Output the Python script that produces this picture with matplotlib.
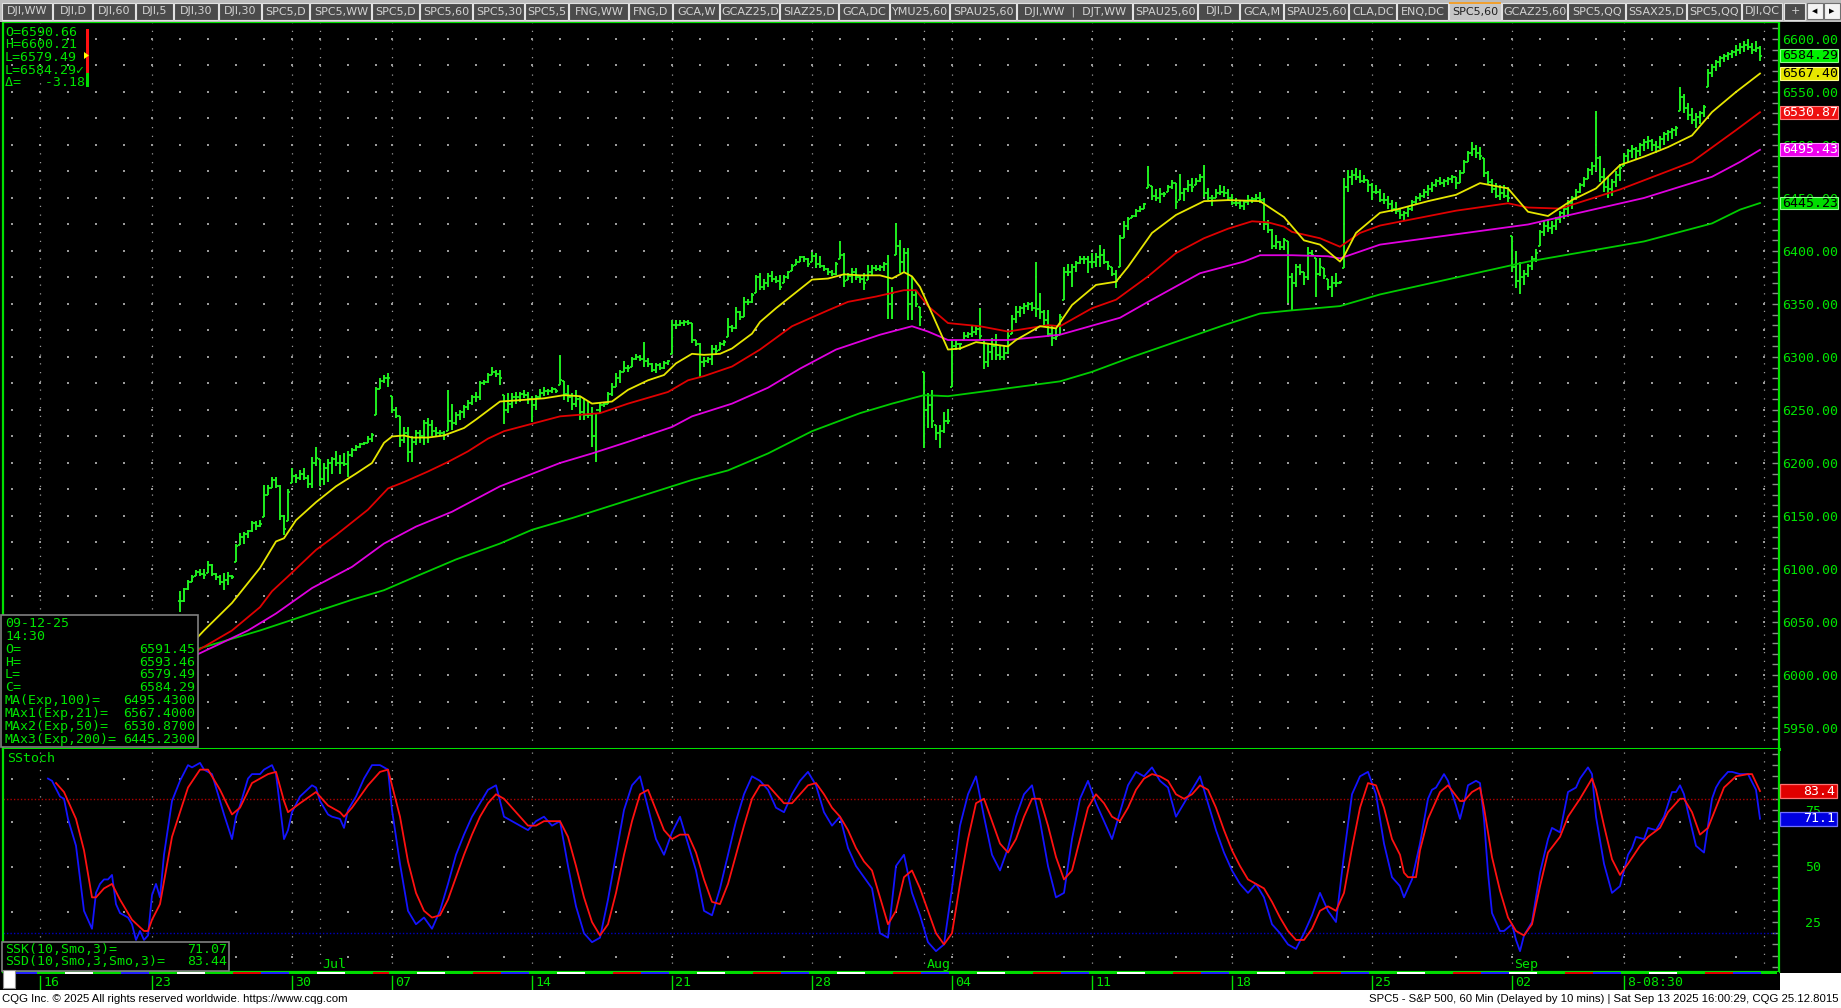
import matplotlib
matplotlib.use("Agg")
import matplotlib.pyplot as plt
import matplotlib.transforms as mtransforms
from matplotlib.patches import Rectangle, Polygon
import numpy as np
import pandas as pd

plt.rcParams["font.family"] = ["DejaVu Sans Mono", "DejaVu Sans"]

W, H = 1841, 1008
DPI = 100

# =============================================================================
# Data: SPC5 60-min bars, Jun 24 .. Sep 12 2025 (one line per session)
# =============================================================================
FIRST_DAY = "2025-06-13"
LAST_DAY = "2025-09-12"
HOLIDAYS = ["2025-06-19", "2025-07-04", "2025-09-01"]
HALF_DAYS = {"2025-07-03": 4}
BARS_PER_DAY = 7
FIRST_BAR_DAY = "2025-06-24"

HIGHS = [
    6079, 6082, 6090, 6094, 6099, 6100, 6100,   # Jun 24
    6108, 6105, 6096, 6094, 6096, 6097, 6094,   # Jun 25
    6124, 6134, 6135, 6137, 6145, 6145, 6146,   # Jun 26
    6179, 6179, 6187, 6187, 6179, 6151, 6175,   # Jun 27
    6195, 6190, 6193, 6195, 6189, 6206, 6215,   # Jun 30
    6204, 6200, 6204, 6206, 6211, 6208, 6209,   # Jul 01
    6211, 6214, 6217, 6219, 6220, 6225, 6228,   # Jul 02
    6272, 6280, 6283, 6285,                     # Jul 03
    6263, 6253, 6244, 6234, 6234, 6225, 6231,   # Jul 07
    6231, 6241, 6242, 6241, 6234, 6231, 6230,   # Jul 08
    6269, 6256, 6248, 6250, 6255, 6259, 6264,   # Jul 09
    6267, 6277, 6278, 6285, 6291, 6288, 6288,   # Jul 10
    6264, 6266, 6266, 6267, 6267, 6269, 6267,   # Jul 11
    6263, 6264, 6270, 6272, 6270, 6272, 6270,   # Jul 14
    6302, 6277, 6274, 6266, 6269, 6263, 6261,   # Jul 15
    6258, 6253, 6247, 6258, 6258, 6267, 6275,   # Jul 16
    6285, 6288, 6296, 6292, 6300, 6303, 6302,   # Jul 17
    6314, 6299, 6294, 6294, 6294, 6296, 6297,   # Jul 18
    6335, 6335, 6335, 6335, 6335, 6332, 6316,   # Jul 21
    6313, 6300, 6300, 6311, 6311, 6314, 6316,   # Jul 22
    6337, 6330, 6347, 6343, 6357, 6355, 6360,   # Jul 23
    6377, 6379, 6374, 6379, 6381, 6376, 6377,   # Jul 24
    6377, 6381, 6388, 6392, 6395, 6395, 6393,   # Jul 25
    6399, 6398, 6395, 6387, 6384, 6382, 6390,   # Jul 28
    6409, 6398, 6379, 6384, 6384, 6377, 6379,   # Jul 29
    6387, 6387, 6387, 6387, 6390, 6396, 6366,   # Jul 30
    6426, 6410, 6403, 6403, 6376, 6363, 6347,   # Jul 31
    6286, 6266, 6269, 6236, 6236, 6248, 6251,   # Aug 01
    6316, 6316, 6313, 6324, 6324, 6329, 6330,   # Aug 04
    6346, 6316, 6313, 6318, 6322, 6310, 6310,   # Aug 05
    6324, 6340, 6348, 6348, 6351, 6352, 6352,   # Aug 06
    6390, 6360, 6344, 6344, 6329, 6327, 6341,   # Aug 07
    6385, 6388, 6388, 6391, 6395, 6395, 6395,   # Aug 08
    6398, 6398, 6406, 6402, 6391, 6385, 6382,   # Aug 11
    6415, 6428, 6432, 6434, 6440, 6442, 6445,   # Aug 12
    6480, 6461, 6458, 6459, 6456, 6462, 6467,   # Aug 13
    6464, 6473, 6459, 6467, 6469, 6469, 6473,   # Aug 14
    6481, 6459, 6453, 6458, 6462, 6461, 6458,   # Aug 15
    6454, 6450, 6448, 6448, 6453, 6451, 6454,   # Aug 18
    6456, 6450, 6429, 6421, 6415, 6409, 6412,   # Aug 19
    6409, 6379, 6388, 6388, 6380, 6404, 6401,   # Aug 20
    6393, 6393, 6384, 6374, 6376, 6379, 6372,   # Aug 21
    6469, 6476, 6476, 6478, 6476, 6472, 6467,   # Aug 22
    6464, 6462, 6458, 6455, 6452, 6448, 6446,   # Aug 25
    6440, 6438, 6442, 6448, 6452, 6455, 6458,   # Aug 26
    6462, 6465, 6468, 6470, 6468, 6470, 6472,   # Aug 27
    6470, 6476, 6486, 6494, 6503, 6500, 6498,   # Aug 28
    6488, 6475, 6468, 6464, 6462, 6462, 6460,   # Aug 29
    6414, 6400, 6390, 6382, 6388, 6395, 6402,   # Sep 02
    6420, 6428, 6430, 6428, 6432, 6438, 6442,   # Sep 03
    6448, 6452, 6458, 6464, 6470, 6478, 6484,   # Sep 04
    6532, 6490, 6478, 6470, 6468, 6475, 6482,   # Sep 05
    6492, 6496, 6500, 6498, 6502, 6506, 6508,   # Sep 08
    6506, 6504, 6508, 6512, 6514, 6516, 6518,   # Sep 09
    6555, 6548, 6540, 6535, 6530, 6532, 6538,   # Sep 10
    6572, 6576, 6580, 6584, 6586, 6588, 6590,   # Sep 11
    6594, 6596, 6598, 6600.21, 6596, 6598, 6593.46,   # Sep 12
]

LOWS = [
    6059, 6069, 6080, 6088, 6093, 6093, 6091,
    6096, 6093, 6090, 6085, 6080, 6085, 6091,
    6107, 6123, 6124, 6129, 6135, 6137, 6140,
    6149, 6170, 6176, 6176, 6146, 6132, 6145,
    6181, 6181, 6184, 6184, 6176, 6176, 6197,
    6178, 6179, 6182, 6190, 6197, 6190, 6197,
    6187, 6206, 6211, 6214, 6217, 6219, 6220,
    6245, 6270, 6275, 6272,
    6247, 6242, 6215, 6219, 6201, 6201, 6217,
    6219, 6217, 6219, 6225, 6225, 6225, 6222,
    6230, 6231, 6236, 6241, 6242, 6250, 6255,
    6258, 6259, 6274, 6275, 6283, 6281, 6274,
    6237, 6247, 6252, 6256, 6258, 6261, 6256,
    6239, 6250, 6261, 6263, 6264, 6266, 6266,
    6274, 6259, 6258, 6250, 6253, 6241, 6241,
    6242, 6215, 6201, 6247, 6253, 6256, 6263,
    6272, 6275, 6286, 6286, 6291, 6297, 6296,
    6291, 6291, 6286, 6285, 6288, 6289, 6292,
    6303, 6326, 6329, 6329, 6330, 6313, 6310,
    6281, 6291, 6294, 6292, 6302, 6307, 6310,
    6319, 6324, 6326, 6335, 6338, 6349, 6351,
    6360, 6363, 6363, 6366, 6371, 6370, 6363,
    6370, 6374, 6381, 6387, 6390, 6390, 6385,
    6390, 6384, 6384, 6381, 6377, 6376, 6377,
    6392, 6366, 6373, 6370, 6373, 6370, 6363,
    6373, 6376, 6381, 6381, 6381, 6336, 6336,
    6396, 6379, 6379, 6335, 6335, 6347, 6329,
    6214, 6233, 6233, 6222, 6214, 6228, 6237,
    6272, 6307, 6307, 6316, 6318, 6319, 6321,
    6316, 6289, 6291, 6297, 6297, 6297, 6297,
    6303, 6322, 6332, 6338, 6341, 6344, 6343,
    6338, 6336, 6329, 6319, 6310, 6316, 6321,
    6354, 6376, 6366, 6380, 6388, 6388, 6379,
    6384, 6385, 6385, 6388, 6382, 6376, 6365,
    6385, 6412, 6420, 6431, 6432, 6437, 6440,
    6459, 6448, 6447, 6445, 6451, 6456, 6458,
    6440, 6448, 6447, 6456, 6456, 6462, 6465,
    6451, 6448, 6442, 6450, 6453, 6451, 6447,
    6443, 6442, 6440, 6439, 6443, 6445, 6447,
    6445, 6420, 6417, 6402, 6402, 6401, 6401,
    6351, 6343, 6366, 6377, 6368, 6373, 6395,
    6357, 6376, 6374, 6363, 6357, 6366, 6369,
    6384, 6456, 6462, 6467, 6464, 6464, 6456,
    6448, 6454, 6446, 6444, 6440, 6437, 6435,
    6430, 6428, 6432, 6438, 6444, 6447, 6450,
    6452, 6456, 6460, 6462, 6460, 6462, 6464,
    6458, 6464, 6474, 6484, 6490, 6488, 6486,
    6470, 6462, 6455, 6450, 6448, 6450, 6446,
    6380, 6365, 6359, 6368, 6375, 6382, 6390,
    6405, 6414, 6418, 6416, 6420, 6426, 6430,
    6432, 6440, 6448, 6455, 6460, 6468, 6472,
    6475, 6465, 6456, 6450, 6452, 6460, 6466,
    6480, 6484, 6488, 6486, 6490, 6494, 6496,
    6494, 6492, 6496, 6500, 6504, 6506, 6508,
    6532, 6530, 6524, 6520, 6516, 6520, 6526,
    6555, 6564, 6570, 6574, 6578, 6580, 6582,
    6584, 6586, 6588, 6590, 6586, 6588, 6579.49,
]

CLOSES = [
    6070, 6081, 6088, 6092, 6097, 6095, 6094,
    6104, 6095, 6092, 6088, 6090, 6093, 6092,
    6122, 6130, 6133, 6136, 6143, 6141, 6142,
    6170, 6176, 6184, 6178, 6150, 6138, 6173,
    6188, 6186, 6190, 6186, 6180, 6200, 6205,
    6185, 6195, 6200, 6204, 6200, 6200, 6199,
    6208, 6212, 6215, 6218, 6219, 6223, 6226,
    6270, 6277, 6280, 6280,
    6250, 6244, 6222, 6228, 6210, 6220, 6228,
    6225, 6238, 6236, 6230, 6228, 6228, 6226,
    6240, 6238, 6245, 6248, 6253, 6257, 6262,
    6262, 6275, 6276, 6283, 6286, 6284, 6280,
    6250, 6256, 6262, 6262, 6265, 6264, 6260,
    6255, 6262, 6266, 6268, 6268, 6270, 6268,
    6278, 6265, 6262, 6256, 6260, 6248, 6245,
    6245, 6225, 6250, 6255, 6256, 6265, 6272,
    6280, 6286, 6290, 6290, 6298, 6300, 6298,
    6296, 6293, 6288, 6292, 6290, 6294, 6296,
    6330, 6330, 6332, 6333, 6332, 6316, 6312,
    6295, 6296, 6298, 6308, 6306, 6312, 6314,
    6328, 6327, 6342, 6338, 6352, 6352, 6358,
    6375, 6366, 6370, 6376, 6374, 6372, 6366,
    6375, 6380, 6386, 6390, 6394, 6392, 6388,
    6395, 6388, 6386, 6383, 6380, 6378, 6388,
    6396, 6372, 6376, 6380, 6375, 6374, 6370,
    6380, 6384, 6383, 6385, 6388, 6350, 6360,
    6405, 6390, 6398, 6350, 6358, 6350, 6338,
    6250, 6255, 6240, 6228, 6230, 6240, 6240,
    6310, 6312, 6312, 6320, 6322, 6324, 6326,
    6320, 6295, 6305, 6310, 6302, 6300, 6304,
    6320, 6336, 6342, 6346, 6348, 6350, 6346,
    6345, 6342, 6335, 6322, 6318, 6320, 6338,
    6380, 6380, 6385, 6389, 6392, 6392, 6390,
    6390, 6394, 6396, 6390, 6386, 6378, 6372,
    6412, 6424, 6430, 6433, 6438, 6440, 6444,
    6462, 6452, 6450, 6454, 6454, 6460, 6464,
    6446, 6455, 6458, 6462, 6460, 6466, 6470,
    6455, 6450, 6450, 6455, 6456, 6455, 6450,
    6445, 6445, 6442, 6446, 6448, 6449, 6450,
    6448, 6425, 6420, 6405, 6408, 6404, 6410,
    6375, 6370, 6385, 6380, 6375, 6398, 6396,
    6378, 6385, 6376, 6366, 6370, 6370, 6371,
    6460, 6470, 6472, 6470, 6466, 6467, 6462,
    6456, 6456, 6448, 6448, 6444, 6440, 6438,
    6434, 6436, 6440, 6446, 6450, 6452, 6456,
    6458, 6462, 6466, 6464, 6466, 6468, 6470,
    6464, 6474, 6484, 6492, 6496, 6492, 6490,
    6474, 6465, 6458, 6452, 6455, 6452, 6450,
    6385, 6372, 6375, 6378, 6386, 6392, 6398,
    6418, 6424, 6422, 6424, 6430, 6436, 6440,
    6445, 6450, 6456, 6462, 6468, 6476, 6480,
    6488, 6470, 6460, 6458, 6465, 6472, 6478,
    6490, 6494, 6496, 6494, 6500, 6503, 6504,
    6500, 6498, 6506, 6510, 6512, 6514, 6516,
    6545, 6535, 6528, 6524, 6526, 6530, 6536,
    6568, 6574, 6578, 6582, 6584, 6586, 6588,
    6590, 6592, 6594, 6592, 6590, 6591.45, 6584.29,
]

# Moving averages, read at bar indices (bar 0 = first bar of Jun 16)
EMA21_AT = [38, 41, 48, 55, 59, 61, 64, 69, 74, 79, 83, 86, 88, 91, 93, 97, 101, 106, 109,
            115, 119, 126, 131, 135, 138, 143, 147, 152, 156, 159, 163, 166, 170, 173, 178,
            180, 184, 188, 193, 197, 201, 205, 210, 213, 216, 218, 220, 223, 227, 230, 234,
            242, 244, 250, 254, 258, 264, 269, 272, 278, 284, 291, 297, 305, 311, 316, 320,
            325, 326, 329, 335, 339, 347, 354, 360, 367, 372, 377, 383, 389, 395, 401, 407,
            413, 418, 424, 430]
EMA21 = [6030, 6042, 6068, 6101, 6126, 6129, 6146, 6163, 6178, 6190, 6200, 6219, 6225, 6226,
         6224, 6224, 6226, 6233, 6241, 6258, 6259, 6261, 6264, 6263, 6256, 6258, 6269, 6278,
         6283, 6294, 6303, 6302, 6303, 6308, 6322, 6333, 6346, 6358, 6373, 6374, 6378, 6377,
         6377, 6374, 6380, 6376, 6366, 6341, 6307, 6308, 6314, 6310, 6316, 6329, 6327, 6349,
         6368, 6371, 6385, 6417, 6434, 6447, 6448, 6447, 6432, 6410, 6406, 6390, 6395, 6417,
         6436, 6439, 6447, 6453, 6464, 6459, 6437, 6433, 6448, 6459, 6481, 6489, 6498, 6509,
         6531, 6550, 6567.40]

EMA50_AT = [38, 48, 55, 58, 62, 69, 74, 82, 87, 91, 97, 102, 107, 112, 116, 122, 130, 140,
            147, 157, 162, 166, 173, 180, 188, 197, 202, 209, 216, 219, 222, 227, 235, 242,
            252, 255, 263, 269, 277, 284, 291, 297, 303, 307, 311, 313, 320, 325, 330, 335,
            354, 367, 372, 380, 395, 413, 424, 430]
EMA50 = [6020, 6042, 6064, 6079, 6093, 6118, 6132, 6156, 6176, 6182, 6192, 6201, 6211, 6223,
         6230, 6236, 6244, 6247, 6256, 6267, 6278, 6282, 6291, 6307, 6329, 6344, 6352, 6357,
         6363, 6363, 6348, 6332, 6329, 6324, 6330, 6329, 6346, 6354, 6376, 6398, 6412, 6421,
         6428, 6427, 6423, 6418, 6412, 6404, 6417, 6424, 6438, 6445, 6441, 6440, 6458, 6484,
         6514, 6530.87]

EMA100_AT = [38, 52, 59, 68, 78, 86, 94, 103, 115, 130, 138, 147, 158, 163, 173, 182, 190,
             199, 210, 218, 222, 227, 235, 242, 255, 270, 277, 290, 301, 305, 313, 322, 325,
             335, 372, 401, 418, 425, 430]
EMA100 = [6017, 6042, 6058, 6082, 6102, 6124, 6140, 6154, 6178, 6200, 6209, 6220, 6234, 6244,
          6256, 6271, 6289, 6307, 6321, 6329, 6324, 6316, 6316, 6316, 6321, 6337, 6352, 6379,
          6390, 6396, 6396, 6395, 6393, 6406, 6425, 6450, 6470, 6484, 6495.43]

EMA200_AT = [38, 55, 63, 70, 78, 86, 94, 104, 115, 123, 133, 163, 172, 182, 193, 205, 213,
             221, 227, 235, 243, 255, 263, 273, 283, 296, 305, 313, 325, 335, 372, 401, 418,
             425, 430]
EMA200 = [6023, 6042, 6052, 6061, 6071, 6080, 6093, 6109, 6124, 6137, 6148, 6184, 6193, 6209,
          6230, 6247, 6256, 6264, 6263, 6267, 6271, 6277, 6286, 6300, 6313, 6330, 6341, 6344,
          6348, 6359, 6390, 6409, 6426, 6439, 6445.23]

# Slow stochastic SSK (blue) and SSD (red)
SSK_AT = [2, 3, 5, 6, 7, 9, 11, 13, 14, 15, 16, 17, 18, 19, 20, 22, 23, 24, 25, 26, 27, 28,
          29, 30, 31, 33, 35, 37, 38, 40, 41, 43, 44, 46, 48, 49, 50, 52, 53, 55, 56, 58, 59,
          61, 62, 63, 65, 68, 69, 70, 72, 73, 75, 76, 77, 79, 81, 83, 85, 87, 88, 90,
          92, 94, 96, 98, 100, 102, 104, 106, 108, 110, 112, 114, 116, 118, 120, 122, 124,
          126, 128, 130, 132, 134, 136, 138, 140, 142, 144, 146, 148, 150, 152, 154, 156,
          158, 160, 162, 164, 166, 168, 170, 172, 174, 176, 178, 180, 182, 184, 186, 188,
          190, 192, 194, 196, 198, 200, 202, 204, 206, 208, 210, 212, 214, 216, 218, 220,
          222, 224, 226, 228, 230, 232, 234, 236, 238, 240, 242, 244, 246, 248, 250, 252,
          254, 256, 258, 260, 262, 264, 266, 268, 270, 272, 274, 276, 278, 280, 282, 284,
          286, 288, 290, 292, 294, 296, 298, 300, 302, 304, 306, 308, 310, 312, 314, 316,
          318, 320, 322, 324, 326, 328, 330, 332, 334, 336, 338, 340, 341, 343, 345, 347,
          348, 349, 351, 352, 354, 355, 356, 357, 359, 360, 361, 362, 363, 365, 366, 368,
          369, 370, 371, 373, 375, 377, 378, 380, 382, 384, 385, 387, 388, 389, 391, 393,
          395, 397, 398, 399, 401, 402, 404, 406, 408, 409, 410, 411, 412, 414, 416, 418,
          419, 420, 422, 423, 425, 427, 429, 430]
SSK = [89, 88, 81, 80, 71, 59, 30, 22, 38, 42, 44, 44, 46, 33, 29, 27, 24, 17, 21, 17, 19,
       37, 42, 36, 55, 79, 88, 95, 94, 96, 93, 91, 85, 73, 62, 72, 77, 89, 91, 91, 93, 95, 91,
       62, 66, 74, 81, 86, 85, 79, 73, 72, 71, 67, 75, 81, 89, 95, 95, 93, 75, 51,
       30, 24, 27, 22, 30, 42, 55, 64, 72, 78, 84, 86, 72, 70, 68, 66, 70,
       72, 68, 70, 50, 32, 20, 16, 18, 35, 55, 75, 86, 90, 76, 62, 55,
       65, 72, 60, 48, 30, 28, 40, 55, 70, 82, 90, 88, 84, 76, 74, 82,
       88, 92, 86, 74, 68, 72, 58, 50, 45, 40, 20, 18, 50, 55, 38, 28,
       16, 12, 15, 40, 68, 82, 90, 72, 55, 48, 58, 72, 82, 86, 70, 50,
       36, 38, 62, 80, 88, 78, 70, 62, 74, 86, 92, 90, 94, 88, 85, 72,
       78, 84, 90, 78, 66, 56, 48, 42, 38, 42, 36, 24, 20, 15, 13, 20,
       28, 38, 30, 25, 55, 82, 90, 92, 82, 60, 45, 41, 36, 44, 60, 80,
       84, 85, 91, 88, 77, 71, 78, 86, 88, 87, 71, 47, 29, 21, 21, 24,
       17, 12, 19, 25, 47, 62, 67, 65, 83, 85, 89, 94, 91, 72, 51, 38,
       41, 55, 58, 63, 62, 67, 66, 72, 83, 83, 86, 82, 74, 59, 56, 80,
       85, 88, 92, 92, 91, 91, 84, 71.07]

SSD_AT = [4, 6, 9, 11, 13, 14, 16, 18, 20, 23, 26, 27, 28, 30, 33, 37, 40, 42, 45, 48, 50,
          53, 57, 59, 61, 62, 65, 69, 72, 75, 76, 78, 82, 85, 87, 89, 90,
          92, 94, 96, 98, 100, 102, 104, 106, 108, 110, 112, 114, 116, 118, 120, 122, 124,
          126, 128, 130, 132, 134, 136, 138, 140, 142, 144, 146, 148, 150, 152, 154, 156,
          158, 160, 162, 164, 166, 168, 170, 172, 174, 176, 178, 180, 182, 184, 186, 188,
          190, 192, 194, 196, 198, 200, 202, 204, 206, 208, 210, 212, 214, 216, 218, 220,
          222, 224, 226, 228, 230, 232, 234, 236, 238, 240, 242, 244, 246, 248, 250, 252,
          254, 256, 258, 260, 262, 264, 266, 268, 270, 272, 274, 276, 278, 280, 282, 284,
          286, 288, 290, 292, 294, 296, 298, 300, 302, 304, 306, 308, 310, 312, 314, 316,
          318, 320, 322, 324, 326, 328, 330, 332, 334, 336, 338, 340, 341, 342, 344, 345,
          347, 350, 352, 355, 356, 358, 360, 361, 363, 365, 367, 369, 371, 373, 375, 377,
          380, 382, 385, 388, 389, 391, 393, 395, 397, 400, 402, 405, 407, 410, 411, 413,
          415, 417, 419, 421, 424, 427, 428, 430]
SSD = [87, 83, 71, 57, 36, 36, 40, 42, 35, 26, 21, 21, 26, 33, 63, 85, 93, 93, 84, 73, 76,
       87, 91, 92, 79, 74, 78, 83, 77, 74, 72, 76, 86, 92, 93, 79, 72,
       52, 38, 30, 27, 28, 35, 45, 55, 64, 72, 78, 82, 80, 76, 72, 68, 68,
       70, 70, 70, 63, 50, 36, 25, 19, 24, 38, 55, 70, 82, 84, 75, 66,
       62, 64, 64, 56, 44, 34, 33, 42, 55, 68, 80, 86, 86, 82, 78, 78,
       82, 86, 87, 82, 76, 72, 66, 58, 52, 48, 36, 24, 30, 45, 48, 40,
       30, 20, 15, 20, 42, 62, 78, 80, 70, 60, 56, 62, 72, 80, 80, 68,
       54, 44, 48, 62, 76, 82, 78, 72, 70, 76, 84, 89, 91, 90, 88, 82,
       80, 82, 86, 84, 76, 66, 57, 50, 44, 42, 40, 34, 27, 21, 17, 17,
       22, 30, 32, 30, 38, 58, 76, 87, 86, 76, 62, 55, 47, 45, 45, 57,
       71, 83, 86, 79, 79, 83, 85, 76, 54, 39, 27, 21, 19, 24, 41, 56,
       63, 72, 80, 89, 84, 68, 53, 46, 51, 59, 63, 67, 74, 80, 80, 74,
       64, 67, 76, 85, 90, 91, 91, 83.44]

INFO_TOP = ["O=6590.66", "H=6600.21", "L=6579.49", "L=6584.29\u2713", "\u0394=   -3.18"]
INFO_BAR_DATE = "09-12-25"
INFO_BAR_TIME = "14:30"
INFO_ROWS = [("O=", "6591.45"), ("H=", "6593.46"), ("L=", "6579.49"), ("C=", "6584.29"),
             ("MA(Exp,100)=", "6495.4300"), ("MAx1(Exp,21)=", "6567.4000"),
             ("MAx2(Exp,50)=", "6530.8700"), ("MAx3(Exp,200)=", "6445.2300")]
STOCH_ROWS = [("SSK(10,Smo,3)=", "71.07"), ("SSD(10,Smo,3,Smo,3)=", "83.44")]
WEEK_LABELS = ["16", "23", "30", "07", "14", "21", "28", "04", "11", "18", "25", "02", "8-08:30"]
MONTH_LABELS = ["Jul", "Aug", "Sep"]

TABS = [("DJI,WW", 2, 53), ("DJI,D", 53, 93), ("DJI,60", 93, 136), ("DJI,5", 136, 174),
        ("DJI,30", 174, 219), ("DJI,30", 219, 262), ("SPC5,D", 262, 310),
        ("SPC5,WW", 310, 372), ("SPC5,D", 372, 420), ("SPC5,60", 420, 473),
        ("SPC5,30", 473, 525), ("SPC5,5", 525, 569), ("FNG,WW", 569, 629),
        ("FNG,D", 629, 673), ("GCA,W", 673, 720), ("GCAZ25,D", 720, 780),
        ("SIAZ25,D", 780, 839), ("GCA,DC", 839, 890), ("YMU25,60", 890, 950),
        ("SPAU25,60", 950, 1017), ("DJI,WW  |  DJT,WW", 1017, 1133),
        ("SPAU25,60", 1133, 1198), ("DJI,D", 1198, 1240), ("GCA,M", 1240, 1284),
        ("SPAU25,60", 1284, 1349), ("CLA,DC", 1349, 1397), ("ENQ,DC", 1397, 1449),
        ("SPC5,60", 1449, 1502), ("GCAZ25,60", 1502, 1568), ("SPC5,QQ", 1568, 1626),
        ("SSAX25,D", 1626, 1687), ("SPC5,QQ", 1687, 1742), ("DJI,QC", 1742, 1783),
        ("+", 1784, 1806)]
ACTIVE_TAB = 27

FOOTER_LEFT = "CQG Inc. \u00a9 2025 All rights reserved worldwide. https://www.cqg.com"
FOOTER_RIGHT = ("SPC5 - S&P 500, 60 Min (Delayed by 10 mins) | "
                "Sat Sep 13 2025 16:00:29, CQG 25.12.8015")

# =============================================================================
# Style
# =============================================================================
TXT_GREEN = "#00e400"
BORDER_GREEN = "#00e000"
BAR_GREEN = "#1ff01f"
GRID_GRAY = "#9a9a9a"
C_EMA21, C_EMA50, C_EMA100, C_EMA200 = "#e6e600", "#e00000", "#e000e0", "#00cc00"
C_SSK, C_SSD = "#1414ff", "#ff1010"
MONO = ["DejaVu Sans Mono", "DejaVu Sans"]
FS = 9.5

# =============================================================================
# Calendar -> bar index
# =============================================================================
days = pd.bdate_range(FIRST_DAY, LAST_DAY)
days = days[~days.isin(pd.to_datetime(HOLIDAYS))]
counts = np.array([HALF_DAYS.get(d.strftime("%Y-%m-%d"), BARS_PER_DAY) for d in days])
starts = np.concatenate([[0], np.cumsum(counts)[:-1]])
starts = starts - starts[list(days).index(pd.Timestamp("2025-06-16"))]
day_end = starts[-1] + counts[-1]

first_bar = starts[list(days).index(pd.Timestamp(FIRST_BAR_DAY))]
idx = np.arange(first_bar, first_bar + len(HIGHS))
assert len(HIGHS) == len(LOWS) == len(CLOSES) == day_end - first_bar

weeks = days.isocalendar().week.values
week_starts = [starts[k] for k in range(1, len(days)) if weeks[k] != weeks[k - 1]]
month_starts = [starts[k] for k in range(1, len(days)) if days[k].month != days[k - 1].month]
vlines_at = sorted(set(week_starts + month_starts + [day_end]))

highs = np.array(HIGHS, float)
lows = np.array(LOWS, float)
closes = np.array(CLOSES, float)
opens = np.clip(np.concatenate([[closes[0]], closes[:-1]]), lows, highs)

# =============================================================================
# Figure
# =============================================================================
fig = plt.figure(figsize=(W / DPI, H / DPI), dpi=DPI, facecolor="black")


def px_axes(x0, y0, x1, y1):
    ax = fig.add_axes([x0 / W, 1 - y1 / H, (x1 - x0) / W, (y1 - y0) / H])
    ax.set_facecolor("black")
    return ax


X_LEFT, X_RIGHT = -9.25, 434.75
P_LO, P_HI = 5930.2, 6616.0
S_LO, S_HI = 2.7, 102.2

# ---- price panel -------------------------------------------------------------
ax_p = px_axes(3, 22, 1779, 749)
ax_p.set_xlim(X_LEFT, X_RIGHT)
ax_p.set_ylim(P_LO, P_HI)
for side in ("left", "top", "right"):
    ax_p.spines[side].set_color(BORDER_GREEN)
    ax_p.spines[side].set_linewidth(1.6)
ax_p.spines["bottom"].set_color(BORDER_GREEN)
ax_p.spines["bottom"].set_linewidth(2.2)
ax_p.tick_params(axis="x", bottom=False, labelbottom=False)
ax_p.yaxis.tick_right()
ax_p.set_yticks(np.arange(5950, 6601, 50))
ax_p.set_yticklabels([f"{v:.2f}" for v in np.arange(5950, 6601, 50)])
ax_p.set_yticks(np.arange(5940, 6611, 10), minor=True)
ax_p.tick_params(axis="y", which="both", direction="in", length=5, width=1,
                 color="#8a8a8a", labelcolor=TXT_GREEN, labelsize=FS, pad=2.2)

grid_levels = np.arange(5950, 6601, 25)
gx, gy = np.meshgrid(list(starts) + [day_end], grid_levels)
ax_p.scatter(gx.ravel(), gy.ravel(), s=0.9, marker="s", color=GRID_GRAY, lw=0, zorder=1)
for v in vlines_at:
    ax_p.axvline(v, color=GRID_GRAY, lw=0.9, ls=(0, (1, 6)), zorder=1)

ax_p.vlines(idx, lows, highs, color=BAR_GREEN, lw=1.4, zorder=3)
ax_p.hlines(opens, idx - 0.55, idx, color=BAR_GREEN, lw=1.3, zorder=3)
ax_p.hlines(closes, idx, idx + 0.55, color=BAR_GREEN, lw=1.3, zorder=3)

ax_p.plot(EMA200_AT, EMA200, color=C_EMA200, lw=1.3, zorder=4)
ax_p.plot(EMA100_AT, EMA100, color=C_EMA100, lw=1.3, zorder=4)
ax_p.plot(EMA50_AT, EMA50, color=C_EMA50, lw=1.3, zorder=4)
ax_p.plot(EMA21_AT, EMA21, color=C_EMA21, lw=1.3, zorder=4)

ytr_p = mtransforms.blended_transform_factory(ax_p.transAxes, ax_p.transData)
AXW = 1776.0
value_boxes = [
    (closes[-1], "#00f000", "#90ff90", "black"),
    (EMA21[-1], "#e6e600", "#ffff90", "black"),
    (EMA50[-1], "#ee1010", "#ff8080", "white"),
    (EMA100[-1], "#ee00ee", "#ff90ff", "white"),
    (EMA200[-1], "#00dd00", "#90ff90", "black"),
]
for val, fc, ec, tc in value_boxes:
    h = 6.4 / 1.06
    ax_p.add_patch(Rectangle((1 + 1.5 / AXW, val - h), 58 / AXW, 2 * h, transform=ytr_p,
                             fc=fc, ec=ec, lw=0.8, clip_on=False, zorder=30))
    ax_p.text(1 + 3 / AXW, val, f"{val:.2f}", transform=ytr_p, ha="left", va="center",
              color=tc, fontsize=FS, family=MONO, clip_on=False, zorder=31)

# ---- stochastic panel -------------------------------------------------------
ax_s = px_axes(3, 749, 1779, 972)
ax_s.set_xlim(X_LEFT, X_RIGHT)
ax_s.set_ylim(S_LO, S_HI)
ax_s.spines["top"].set_visible(False)
for side in ("left", "right", "bottom"):
    ax_s.spines[side].set_color(BORDER_GREEN)
    ax_s.spines[side].set_linewidth(1.6)
ax_s.tick_params(axis="x", bottom=False, labelbottom=False)
ax_s.yaxis.tick_right()
ax_s.set_yticks([25, 50, 75])
ax_s.set_yticklabels(["25", "50", "75"])
ax_s.set_yticks(np.arange(5, 101, 5), minor=True)
ax_s.tick_params(axis="y", which="both", direction="in", length=5, width=1,
                 color="#8a8a8a", labelcolor=TXT_GREEN, labelsize=FS, pad=18.5)

srows = [9.5, 29.5, 49.5, 69.5, 89.0]
sx, sy = np.meshgrid(list(starts[::2]), srows)
ax_s.scatter(sx.ravel(), sy.ravel(), s=0.9, marker="s", color=GRID_GRAY, lw=0, zorder=1)
for v in vlines_at:
    ax_s.axvline(v, color=GRID_GRAY, lw=0.9, ls=(0, (1, 6)), zorder=1)
ax_s.axhline(80, color="#b00000", lw=1.0, ls=(0, (1, 1.5)), zorder=2)
ax_s.axhline(20, color="#0000c0", lw=1.0, ls=(0, (1, 1.5)), zorder=2)

ax_s.plot(SSK_AT, SSK, color=C_SSK, lw=1.3, zorder=4)
ax_s.plot(SSD_AT, SSD, color=C_SSD, lw=1.3, zorder=5)

ytr_s = mtransforms.blended_transform_factory(ax_s.transAxes, ax_s.transData)
for val, fc, ec in [(SSD[-1], "#e00000", "#ff7070"), (SSK[-1], "#0000e0", "#7070ff")]:
    h = 7 / 2.24
    ax_s.add_patch(Rectangle((1 + 1.5 / AXW, val - h), 57 / AXW, 2 * h, transform=ytr_s,
                             fc=fc, ec=ec, lw=0.9, clip_on=False, zorder=30))
    ax_s.text(1 + 56 / AXW, val, f"{val:.1f}", transform=ytr_s, ha="right", va="center",
              color="white", fontsize=FS, family=MONO, clip_on=False, zorder=31)

mtr = mtransforms.blended_transform_factory(ax_s.transData, ax_s.transAxes)
for lab, m in zip(MONTH_LABELS, month_starts):
    ax_s.text(m + 0.6, 0.032, lab, transform=mtr, ha="left", va="center",
              color=TXT_GREEN, fontsize=FS, family=MONO)

# ---- date row -----------------------------------------------------------------
ax_d = px_axes(3, 972, 1779, 990)
ax_d.set_xlim(X_LEFT, X_RIGHT)
ax_d.set_ylim(18, 0)
ax_d.axis("off")
ax_d.patch.set_visible(True)
ax_d.add_patch(Rectangle((X_LEFT, 0), X_RIGHT - X_LEFT, 18, fc="black", ec="none", zorder=0))
day_colors = {0: "#00dd00", 1: "#ffffff", 2: "#00dd00", 3: "#e00000", 4: "#2020ff"}
ax_d.add_patch(Rectangle((X_LEFT + 2, 0), X_RIGHT - X_LEFT - 2.5, 1.6, fc=BORDER_GREEN,
                         ec="none", zorder=1))
for d, s, n in zip(days, starts, counts):
    ax_d.add_patch(Rectangle((s - 0.75, 0), n, 1.6, fc=day_colors[d.weekday()],
                             ec="none", zorder=2))
for lab, w in zip(WEEK_LABELS, week_starts):
    ax_d.plot([w, w], [3.5, 16.5], color=TXT_GREEN, lw=1.0)
    ax_d.text(w + 0.8, 10, lab, ha="left", va="center", color=TXT_GREEN,
              fontsize=FS, family=MONO)

# ---- overlay: window chrome, info boxes ----------------------------------------
ax_o = fig.add_axes([0, 0, 1, 1])
ax_o.set_xlim(0, W)
ax_o.set_ylim(H, 0)
ax_o.axis("off")
ax_o.patch.set_alpha(0)

# tab bar
ax_o.add_patch(Rectangle((0, 0), W, 22, fc="#bcbcbc", ec="none"))
for k, (lab, x0, x1) in enumerate(TABS):
    active = k == ACTIVE_TAB
    ax_o.add_patch(Rectangle((x0 + 0.5, 2.5), x1 - x0 - 1, 17.5,
                             fc="#c6c6c6" if active else "#4b4b4b", ec="#e2e2e2", lw=0.8))
    if active:
        ax_o.add_patch(Rectangle((x0 + 0.5, 1.5), x1 - x0 - 1, 2, fc="#f0a030", ec="none"))
    ax_o.text((x0 + x1) / 2, 11.5, lab, ha="center", va="center", fontsize=8,
              family="DejaVu Sans", color="#202020" if active else "#d4d4d4")
for x0, glyph in [(1807, "\u25c0"), (1824, "\u25b6")]:
    ax_o.add_patch(Rectangle((x0, 3), 16, 16, fc="#f4f4f4", ec="#707070", lw=0.8))
    ax_o.text(x0 + 8, 11.5, glyph, ha="center", va="center", fontsize=5,
              family="DejaVu Sans", color="black")

# top-left last-bar info
for k, line in enumerate(INFO_TOP):
    ax_o.text(5, 32.3 + 12.6 * k, line, ha="left", va="center", color=TXT_GREEN,
              fontsize=FS, family=MONO)
ax_o.add_patch(Rectangle((86, 29), 3, 44, fc="#ff1010", ec="none"))
ax_o.add_patch(Rectangle((86, 73), 3, 14, fc="#00e000", ec="none"))
ax_o.add_patch(Polygon([[84, 52], [89, 55.5], [84, 59]], closed=True, fc="#ffff00", ec="none"))

# bottom-left data window
ax_o.add_patch(Rectangle((0.5, 615), 197.5, 131.5, fc="black", ec="#808080", lw=1.2))
rows_y = [623.3 + 12.9 * k for k in range(10)]
ax_o.text(5, rows_y[0], INFO_BAR_DATE, ha="left", va="center", color=TXT_GREEN,
          fontsize=FS, family=MONO)
ax_o.text(5, rows_y[1], INFO_BAR_TIME, ha="left", va="center", color=TXT_GREEN,
          fontsize=FS, family=MONO)
for (lab, val), y in zip(INFO_ROWS, rows_y[2:]):
    ax_o.text(5, y, lab, ha="left", va="center", color=TXT_GREEN, fontsize=FS, family=MONO)
    ax_o.text(195, y, val, ha="right", va="center", color=TXT_GREEN, fontsize=FS, family=MONO)

# stochastic title and value box
ax_o.text(7, 758.5, "SStoch", ha="left", va="center", color=TXT_GREEN, fontsize=FS, family=MONO)
ax_o.add_patch(Rectangle((2, 942.3), 227, 28.5, fc="black", ec="#808080", lw=1.2))
for (lab, val), y in zip(STOCH_ROWS, [949.3, 961.7]):
    ax_o.text(5, y, lab, ha="left", va="center", color=TXT_GREEN, fontsize=FS, family=MONO)
    ax_o.text(227, y, val, ha="right", va="center", color=TXT_GREEN, fontsize=FS, family=MONO)

# bottom chrome
ax_o.add_patch(Rectangle((3, 969.5), 12, 18.5, fc="white", ec="#909090", lw=0.8))
ax_o.add_patch(Rectangle((1780, 973), W - 1780, 17, fc="white", ec="none"))
ax_o.add_patch(Rectangle((0, 990), W, H - 990, fc="white", ec="none"))
ax_o.text(2, 999.5, FOOTER_LEFT, ha="left", va="center", fontsize=8.2,
          family="Liberation Sans", color="black")
ax_o.text(1839, 999.5, FOOTER_RIGHT, ha="right", va="center", fontsize=8.2,
          family="Liberation Sans", color="black")

fig.savefig("out.png", dpi=DPI, facecolor="black")
